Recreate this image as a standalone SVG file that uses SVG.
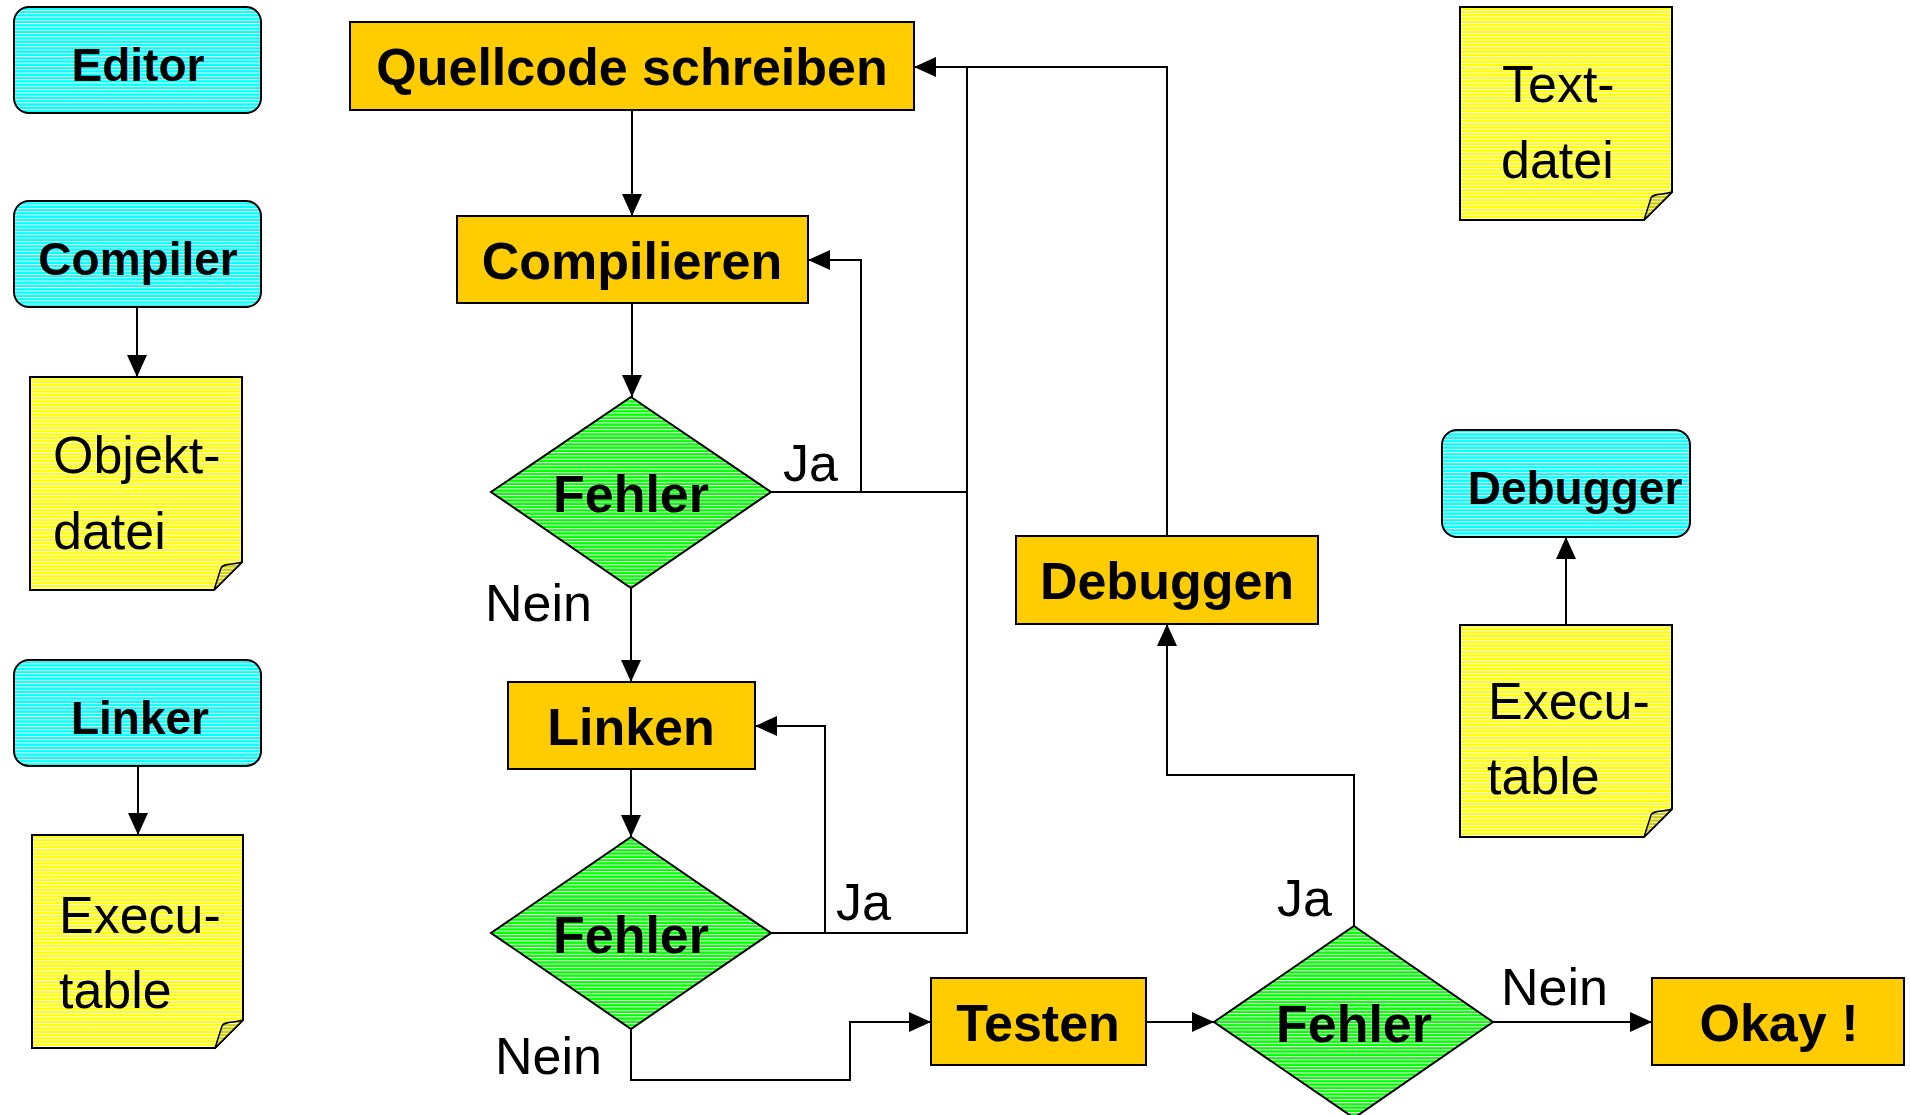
<svg xmlns="http://www.w3.org/2000/svg" width="1910" height="1115" viewBox="0 0 1910 1115">
<style>
  text { font-family: "Liberation Sans", Arial, Helvetica, sans-serif; fill: #000; }
  .b52 { font-size: 52px; font-weight: bold; text-anchor: middle; }
  .b46 { font-size: 46px; font-weight: bold; text-anchor: middle; }
  .r52 { font-size: 52px; }
  .proc { fill: #FFCC00; stroke: #000; stroke-width: 2; }
  .tool { fill: url(#stCyan); stroke: #000; stroke-width: 2; }
  .note { fill: url(#stYellow); stroke: #000; stroke-width: 2; }
  .curl { fill: url(#stOlive); stroke: #000; stroke-width: 1.5; stroke-linejoin: round; }
  .dec { fill: url(#stGreen); stroke: #000; stroke-width: 2; }
  .con { fill: none; stroke: #000; stroke-width: 2; }
  .arr { marker-end: url(#ah); }
</style>
<defs>
  <pattern id="stCyan" patternUnits="userSpaceOnUse" width="20" height="3.3">
    <rect width="20" height="3.3" fill="#00FFFF"/><rect width="20" height="1" fill="#FFFFFF"/>
  </pattern>
  <pattern id="stYellow" patternUnits="userSpaceOnUse" width="20" height="3.3">
    <rect width="20" height="3.3" fill="#FFFF00"/><rect width="20" height="1" fill="#FFFFFF"/>
  </pattern>
  <pattern id="stGreen" patternUnits="userSpaceOnUse" width="20" height="3.3">
    <rect width="20" height="3.3" fill="#00FF00"/><rect width="20" height="1" fill="#FFFFFF"/>
  </pattern>
  <pattern id="stOlive" patternUnits="userSpaceOnUse" width="20" height="3.3">
    <rect width="20" height="3.3" fill="#CCCC00"/><rect width="20" height="1" fill="#FFFFFF"/>
  </pattern>
  <marker id="ah" markerUnits="userSpaceOnUse" markerWidth="22" markerHeight="20" refX="22" refY="10" orient="auto">
    <path d="M0,0 L22,10 L0,20 Z" fill="#000"/>
  </marker>
</defs>

<g id="connectors">
  <path class="con arr" d="M137,307 V377"/>
  <path class="con arr" d="M138,766 V835"/>
  <path class="con arr" d="M1566,625 V537"/>
  <path class="con arr" d="M632,110 V216"/>
  <path class="con arr" d="M632,303 V397"/>
  <path class="con arr" d="M631,588 V682"/>
  <path class="con arr" d="M631,769 V837"/>
  <path class="con arr" d="M771,492 H861 V260 H808"/>
  <path class="con" d="M861,492 H967 V67"/>
  <path class="con arr" d="M771,933 H825 V726 H755"/>
  <path class="con" d="M825,933 H967 V492"/>
  <path class="con arr" d="M631,1029 V1080 H850 V1022 H931"/>
  <path class="con arr" d="M1146,1022 H1214"/>
  <path class="con arr" d="M1493,1022 H1652"/>
  <path class="con arr" d="M1354,926 V775 H1167 V624"/>
  <path class="con arr" d="M1167,536 V67 H914"/>
</g>

<g id="editor">
  <rect class="tool" x="14" y="7" width="247" height="106" rx="15"/>
  <text class="b46" x="138" y="81">Editor</text>
</g>
<g id="compiler">
  <rect class="tool" x="14" y="201" width="247" height="106" rx="15"/>
  <text class="b46" x="138" y="275">Compiler</text>
</g>
<g id="objektdatei">
  <path class="note" d="M30,377 H242 V562 L214,590 H30 Z"/>
  <path class="curl" d="M214,590 L221,568 C223,563 234,565 242,562 Z"/>
  <text class="r52" x="53" y="473">Objekt-</text>
  <text class="r52" x="53" y="549">datei</text>
</g>
<g id="linker">
  <rect class="tool" x="14" y="660" width="247" height="106" rx="15"/>
  <text class="b46" x="140" y="734">Linker</text>
</g>
<g id="executable-left">
  <path class="note" d="M32,835 H243 V1020 L215,1048 H32 Z"/>
  <path class="curl" d="M215,1048 L222,1026 C224,1021 235,1023 243,1020 Z"/>
  <text class="r52" x="59" y="933">Execu-</text>
  <text class="r52" x="59" y="1008">table</text>
</g>

<g id="quellcode">
  <rect class="proc" x="350" y="22" width="564" height="88"/>
  <text class="b52" x="632" y="85">Quellcode schreiben</text>
</g>
<g id="compilieren">
  <rect class="proc" x="457" y="216" width="351" height="87"/>
  <text class="b52" x="632" y="279">Compilieren</text>
</g>
<g id="fehler1">
  <polygon class="dec" points="631,397 771,492 631,588 491,492"/>
  <text class="b52" x="631" y="512">Fehler</text>
</g>
<g id="linken">
  <rect class="proc" x="508" y="682" width="247" height="87"/>
  <text class="b52" x="631" y="745">Linken</text>
</g>
<g id="fehler2">
  <polygon class="dec" points="631,837 771,933 631,1029 491,933"/>
  <text class="b52" x="631" y="953">Fehler</text>
</g>
<g id="testen">
  <rect class="proc" x="931" y="978" width="215" height="87"/>
  <text class="b52" x="1038" y="1041">Testen</text>
</g>
<g id="fehler3">
  <polygon class="dec" points="1354,926 1493,1022 1354,1118 1214,1022"/>
  <text class="b52" x="1354" y="1042">Fehler</text>
</g>
<g id="okay">
  <rect class="proc" x="1652" y="978" width="252" height="87"/>
  <text class="b52" x="1779" y="1041">Okay !</text>
</g>
<g id="debuggen">
  <rect class="proc" x="1016" y="536" width="302" height="88"/>
  <text class="b52" x="1167" y="599">Debuggen</text>
</g>

<g id="textdatei">
  <path class="note" d="M1460,7 H1672 V192 L1644,220 H1460 Z"/>
  <path class="curl" d="M1644,220 L1651,198 C1653,193 1664,195 1672,192 Z"/>
  <text class="r52" x="1502" y="102">Text-</text>
  <text class="r52" x="1501" y="178">datei</text>
</g>
<g id="debugger">
  <rect class="tool" x="1442" y="430" width="248" height="107" rx="15"/>
  <text class="b46" x="1575" y="504">Debugger</text>
</g>
<g id="executable-right">
  <path class="note" d="M1460,625 H1672 V809 L1644,837 H1460 Z"/>
  <path class="curl" d="M1644,837 L1651,815 C1653,810 1664,812 1672,809 Z"/>
  <text class="r52" x="1488" y="719">Execu-</text>
  <text class="r52" x="1487" y="794">table</text>
</g>

<g id="labels">
  <text class="r52" x="783" y="481">Ja</text>
  <text class="r52" x="485" y="621">Nein</text>
  <text class="r52" x="836" y="920">Ja</text>
  <text class="r52" x="495" y="1074">Nein</text>
  <text class="r52" x="1277" y="916">Ja</text>
  <text class="r52" x="1501" y="1005">Nein</text>
</g>
</svg>
